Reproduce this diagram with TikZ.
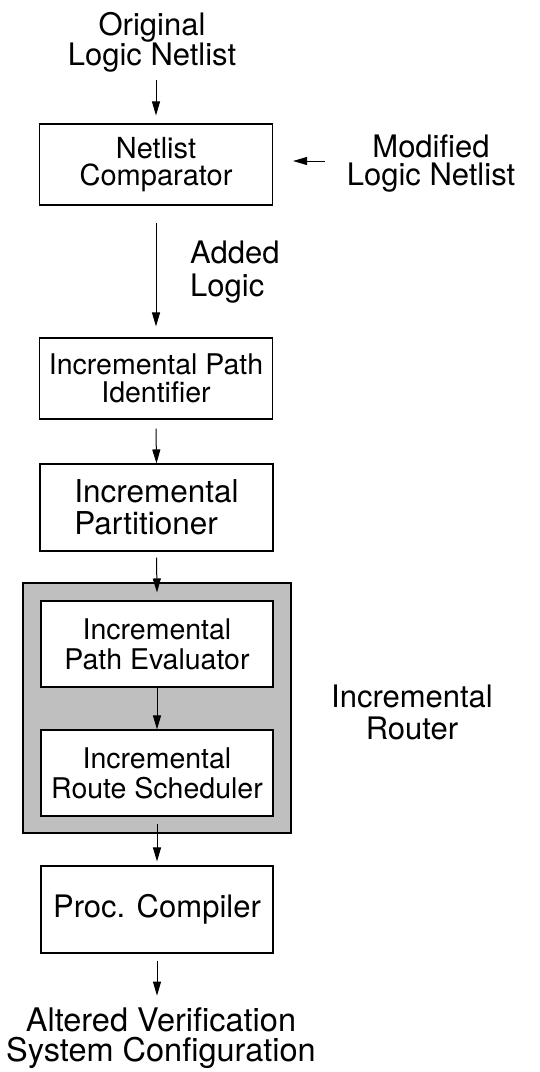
\documentclass[tikz,border=0pt]{standalone}
\usepackage{fontspec}
\setmainfont{TeX Gyre Heros}
\usetikzlibrary{arrows.meta}
\begin{document}
\begin{tikzpicture}[x=1pt,y=-1pt,
  box/.style={draw,line width=1.1pt,fill=white,inner sep=0pt,
    minimum width=233pt,align=center},
  label/.style={inner sep=0pt,align=center},
  bigtext/.style={font=\fontsize{31}{29}\selectfont},
  smalltext/.style={font=\fontsize{28.5}{28.5}\selectfont},
  flow/.style={line width=1pt,-{Triangle[length=14pt,width=8pt]}},
]
\useasboundingbox (0,0) rectangle (540,1072);

% external inputs
\node[label,bigtext] (orig) at (152,42) {Original\\Logic Netlist};
\node[label,font=\fontsize{31}{28}\selectfont] (mod) at (431,164) {Modified\\Logic Netlist};

% main flow
\node[box,minimum height=81pt,font=\fontsize{29}{27}\selectfont] (cmp) at (156,164.5) {Netlist\\Comparator};
\node[label,align=left,anchor=west,font=\fontsize{31}{33}\selectfont] (added) at (190,272) {Added\\Logic};
\node[box,smalltext,minimum height=81pt] (pid) at (156,378.5) {Incremental Path\\Identifier};
\node[box,minimum height=87pt,align=left,font=\fontsize{31.5}{32}\selectfont] (part) at (156.5,507.5) {Incremental\\Partitioner};

% incremental router group
\node[draw,line width=1.1pt,fill=black!25,inner sep=0pt,
  minimum width=268pt,minimum height=250pt] (router) at (157,708) {};
\node[box,minimum width=232pt,minimum height=86pt,font=\fontsize{28.5}{30}\selectfont] (eval) at (157,644) {Incremental\\Path Evaluator};
\node[box,minimum width=232pt,minimum height=86pt,font=\fontsize{28.5}{30}\selectfont] (sched) at (157,773) {Incremental\\Route Scheduler};
\node[label,font=\fontsize{31}{32}\selectfont] (rlabel) at (412,712) {Incremental\\Router};

\node[box,bigtext,minimum width=232pt,minimum height=87pt] (proc) at (157,909.5) {Proc. Compiler};
\node[label,font=\fontsize{32.5}{29.5}\selectfont] (out) at (161,1038) {Altered Verification\\System Configuration};

% connectors
\draw[flow] ([yshift=-8pt]orig.south -| cmp.north) -- ([yshift=8pt]cmp.north);
\draw[flow] ([xshift=-22pt]mod.west |- 0,161) -- ([xshift=20pt]cmp.east |- 0,161);
\draw[flow] ([yshift=-17pt]cmp.south) -- ([yshift=11pt]pid.north);
\draw[flow] ([yshift=-9pt]pid.south) -- (part.north);
\draw[flow] ([yshift=-6pt]part.south) -- ([yshift=-10pt]router.north);
\draw[flow] (eval.south) -- (sched.north);
\draw[flow] ([yshift=10pt]router.south) -- ([yshift=4pt]proc.north);
\draw[flow] ([yshift=-7pt]proc.south) -- ([yshift=12pt]out.north -| proc.south);
\end{tikzpicture}
\end{document}
